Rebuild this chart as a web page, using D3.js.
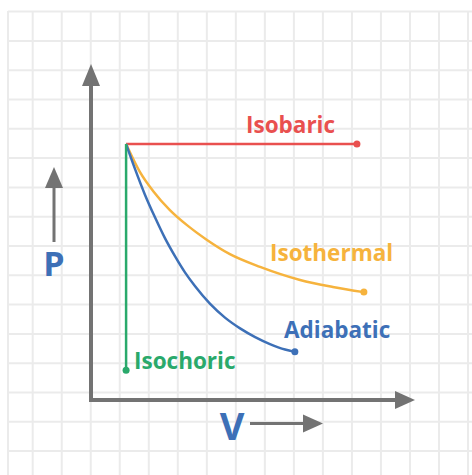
<!DOCTYPE html>
<html>
<head>
<meta charset="utf-8">
<script src="https://cdn.jsdelivr.net/npm/d3@7"></script>
<style>
  html, body { margin: 0; padding: 0; background: #fff; }
  svg { display: block; }
  text { font-family: "Open Sans", sans-serif; font-weight: 700; }
</style>
</head>
<body>
<div class="main-container"></div>
<script>
// values, in grid-cell units (V right, P up from the axes)
const startPoint = [1.21, 8.83];
const isobaricEnd = [9.17, 8.83];
const isochoricEnd = [1.21, 1.03];
const isothermalV = [1.21, 1.69, 2.14, 2.72, 3.31, 4.00, 4.79, 5.83, 7.21, 8.34, 9.41];
const isothermalP = [8.83, 7.86, 7.21, 6.55, 6.03, 5.52, 5.03, 4.59, 4.14, 3.90, 3.72];
const adiabaticV = [1.21, 1.52, 1.86, 2.21, 2.55, 2.90, 3.24, 3.59, 4.10, 4.62, 5.14, 5.66, 6.17, 6.69, 7.03];
const adiabaticP = [8.83, 7.96, 7.08, 6.29, 5.58, 4.95, 4.40, 3.92, 3.32, 2.84, 2.47, 2.17, 1.93, 1.74, 1.66];
const processNames = ["Isobaric", "Isothermal", "Adiabatic", "Isochoric"];

const width = 472;
const height = 475;
const axisGrey = "#737373";
const colors = {
    Isobaric: "#e9504f",
    Isothermal: "#f6b33d",
    Adiabatic: "#3d70b7",
    Isochoric: "#2aa96b"
};

const x = d3.scaleLinear().domain([0, 10]).range([91, 381]);
const y = d3.scaleLinear().domain([0, 10]).range([400, 110]);

const svg = d3.select(".main-container")
    .append("svg")
    .attr("width", width)
    .attr("height", height);

// background grid
const grid = svg.append("g").attr("stroke", "#ebebeb").attr("stroke-width", 2);
const gridX = [8].concat(d3.range(16).map(k => 32.7 + 29.02 * k));
const gridY = d3.range(16).map(k => 11.6 + 29.3 * k);
grid.selectAll("line.v").data(gridX).enter().append("line")
    .attr("x1", d => d).attr("x2", d => d)
    .attr("y1", 11).attr("y2", height);
grid.selectAll("line.h").data(gridY).enter().append("line")
    .attr("x1", 8).attr("x2", width)
    .attr("y1", d => d).attr("y2", d => d);

// arrow helper: straight shaft + filled triangle head
const arrow = (x1, y1, x2, y2, sw, headLen, headHalf) => {
    const dx = x2 - x1, dy = y2 - y1;
    const len = Math.sqrt(dx * dx + dy * dy);
    const ux = dx / len, uy = dy / len;
    const bx = x2 - ux * headLen, by = y2 - uy * headLen;
    svg.append("line")
        .attr("x1", x1).attr("y1", y1).attr("x2", bx + ux).attr("y2", by + uy)
        .attr("stroke", axisGrey).attr("stroke-width", sw);
    svg.append("path")
        .attr("d", "M" + x2 + "," + y2 +
            "L" + (bx - uy * headHalf) + "," + (by + ux * headHalf) +
            "L" + (bx + uy * headHalf) + "," + (by - ux * headHalf) + "Z")
        .attr("fill", axisGrey);
};

// axes
arrow(x(0), y(0) + 2, x(0), 64, 4, 22, 9);
arrow(x(0) - 2, y(0), 415, y(0), 4, 20, 9);

// P and V hints
arrow(54, 242, 54, 167, 3, 21, 9);
arrow(250, 423.5, 323, 423.5, 3, 20, 9);
svg.append("text").attr("x", 54).attr("y", 276).attr("text-anchor", "middle")
    .attr("font-size", 34).attr("fill", colors.Adiabatic).text("P");
svg.append("text").attr("x", 232).attr("y", 440).attr("text-anchor", "middle")
    .attr("font-size", 38).attr("fill", colors.Adiabatic).text("V");

// processes
const line = d3.line().x(d => x(d[0])).y(d => y(d[1])).curve(d3.curveMonotoneX);
const series = {
    Isobaric: [startPoint, isobaricEnd],
    Isothermal: isothermalV.map((v, i) => [v, isothermalP[i]]),
    Adiabatic: adiabaticV.map((v, i) => [v, adiabaticP[i]]),
    Isochoric: [startPoint, isochoricEnd]
};

processNames.forEach(name => {
    const pts = series[name];
    svg.append("path")
        .attr("d", name === "Isochoric" ? d3.line().x(d => x(d[0])).y(d => y(d[1]))(pts) : line(pts))
        .attr("fill", "none")
        .attr("stroke", colors[name])
        .attr("stroke-width", 2.5);
    const end = pts[pts.length - 1];
    svg.append("circle")
        .attr("cx", x(end[0])).attr("cy", y(end[1])).attr("r", 3.5)
        .attr("fill", colors[name]);
});

// labels
const labelPos = {
    Isobaric: [246, 133],
    Isothermal: [270, 261],
    Adiabatic: [284, 338],
    Isochoric: [134, 369]
};
processNames.forEach(name => {
    svg.append("text")
        .attr("x", labelPos[name][0]).attr("y", labelPos[name][1])
        .attr("font-size", 22.5)
        .attr("fill", colors[name])
        .text(name);
});
</script>
</body>
</html>
